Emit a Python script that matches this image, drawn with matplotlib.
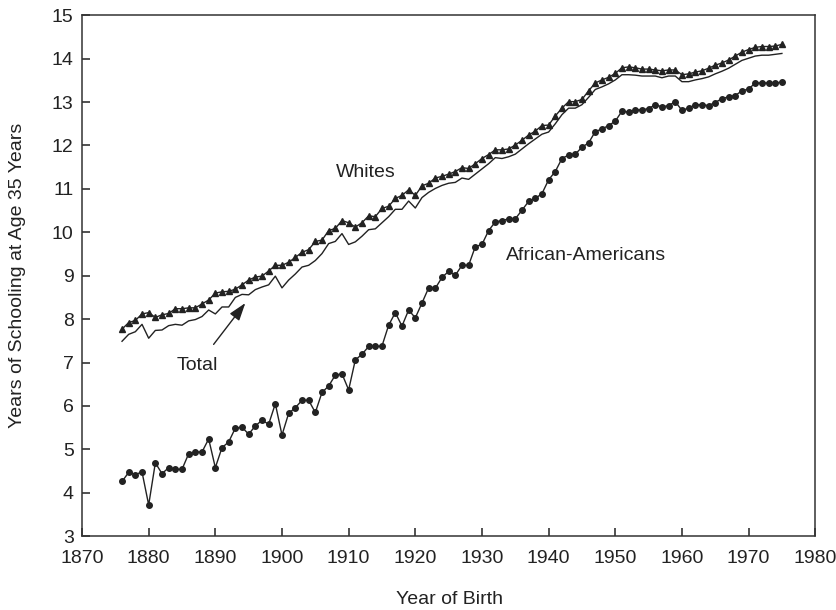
import matplotlib
matplotlib.use("Agg")
import matplotlib.pyplot as plt
import numpy as np

# years of birth 1876-1975
years = np.arange(1876, 1976)

# african-americans (circles)
black = [4.26, 4.47, 4.42, 4.48, 3.72, 4.69, 4.44, 4.58, 4.54, 4.54,
         4.90, 4.94, 4.94, 5.24, 4.58, 5.04, 5.17, 5.49, 5.51, 5.35,
         5.54, 5.67, 5.58, 6.05, 5.33, 5.83, 5.96, 6.13, 6.13, 5.85,
         6.31, 6.46, 6.71, 6.74, 6.37, 7.06, 7.19, 7.37, 7.37, 7.38,
         7.86, 8.15, 7.84, 8.21, 8.03, 8.37, 8.72, 8.71, 8.96, 9.10,
         9.01, 9.24, 9.24, 9.67, 9.72, 10.04, 10.24, 10.27, 10.31, 10.31,
         10.51, 10.71, 10.78, 10.89, 11.21, 11.40, 11.70, 11.78, 11.80, 11.96,
         12.06, 12.32, 12.38, 12.46, 12.56, 12.79, 12.77, 12.82, 12.82, 12.85,
         12.94, 12.89, 12.92, 13.01, 12.81, 12.86, 12.94, 12.94, 12.92, 12.99,
         13.08, 13.12, 13.15, 13.26, 13.30, 13.44, 13.44, 13.44, 13.44, 13.46]

# whites (triangles)
white = [7.77, 7.92, 7.97, 8.12, 8.15, 8.04, 8.10, 8.13, 8.24, 8.24,
         8.26, 8.26, 8.35, 8.44, 8.60, 8.63, 8.64, 8.69, 8.79, 8.90,
         8.97, 8.99, 9.11, 9.24, 9.24, 9.31, 9.42, 9.54, 9.60, 9.79,
         9.82, 10.04, 10.09, 10.27, 10.22, 10.12, 10.22, 10.38, 10.36, 10.55,
         10.60, 10.78, 10.85, 10.98, 10.85, 11.07, 11.13, 11.25, 11.29, 11.34,
         11.40, 11.49, 11.47, 11.58, 11.70, 11.79, 11.90, 11.90, 11.92, 12.01,
         12.12, 12.24, 12.33, 12.46, 12.47, 12.68, 12.86, 13.01, 13.01, 13.06,
         13.26, 13.44, 13.51, 13.57, 13.66, 13.79, 13.81, 13.79, 13.76, 13.76,
         13.74, 13.72, 13.74, 13.74, 13.63, 13.65, 13.69, 13.72, 13.78, 13.85,
         13.90, 13.97, 14.06, 14.15, 14.21, 14.26, 14.28, 14.28, 14.29, 14.33]

# total (plain line)
total = [7.49, 7.65, 7.71, 7.88, 7.56, 7.74, 7.75, 7.85, 7.88, 7.86,
         7.96, 7.99, 8.06, 8.21, 8.12, 8.28, 8.28, 8.50, 8.57, 8.56,
         8.68, 8.74, 8.79, 8.99, 8.72, 8.90, 9.04, 9.20, 9.24, 9.35,
         9.51, 9.74, 9.79, 9.97, 9.72, 9.78, 9.91, 10.06, 10.08, 10.22,
         10.36, 10.53, 10.53, 10.72, 10.56, 10.80, 10.92, 11.01, 11.08, 11.13,
         11.15, 11.25, 11.22, 11.34, 11.46, 11.58, 11.72, 11.70, 11.74, 11.80,
         11.92, 12.04, 12.15, 12.26, 12.31, 12.50, 12.71, 12.86, 12.86, 12.94,
         13.11, 13.29, 13.35, 13.42, 13.51, 13.63, 13.63, 13.62, 13.60, 13.60,
         13.60, 13.56, 13.60, 13.60, 13.47, 13.47, 13.51, 13.54, 13.58, 13.65,
         13.71, 13.78, 13.87, 13.96, 14.01, 14.06, 14.08, 14.08, 14.10, 14.12]

plt.rcParams['font.family'] = ['Liberation Sans', 'DejaVu Sans']
ink = '#222222'
fs = 14

fig = plt.figure(figsize=(8.37, 6.10), dpi=100)
ax = fig.add_axes([0.098, 0.121, 0.876, 0.854])

ax.plot(years, total, color=ink, lw=1.0)
ax.plot(years, white, color=ink, lw=1.0, marker='^', ms=4.5, mec=ink, mfc=ink)
ax.plot(years, black, color=ink, lw=1.0, marker='o', ms=4.0, mec=ink, mfc=ink)

ax.set_xlim(1870, 1980)
ax.set_ylim(3, 15)
ax.set_xticks(range(1870, 1981, 10))
ax.set_yticks(range(3, 16))
ax.tick_params(direction='in', length=6, width=1.2, colors='#333333',
               labelcolor=ink, labelsize=fs)
ax.tick_params(axis='y', pad=6)
ax.tick_params(axis='x', pad=10)
for s in ax.spines.values():
    s.set_color('#333333')
    s.set_linewidth(1.1)

ax.text(1912.5, 11.37, 'Whites', fontsize=fs, color=ink, ha='center', va='center')
ax.text(1933.6, 9.47, 'African-Americans', fontsize=fs, color=ink, ha='left', va='center')
ax.annotate('Total', xy=(1894.5, 8.37), xytext=(1887.3, 6.93), fontsize=fs, color=ink,
            ha='center', va='center',
            arrowprops=dict(arrowstyle='-|>,head_length=0.9,head_width=0.3',
                            color=ink, lw=1.0, mutation_scale=12,
                            shrinkA=9, shrinkB=0))

ax.set_ylabel('Years of Schooling at Age 35 Years', fontsize=fs, color=ink)
ax.yaxis.set_label_coords(-0.076, 0.5)
fig.text(0.537, 0.018, 'Year of Birth', fontsize=fs, color=ink, ha='center', va='center')

fig.savefig('out.png', dpi=100)
